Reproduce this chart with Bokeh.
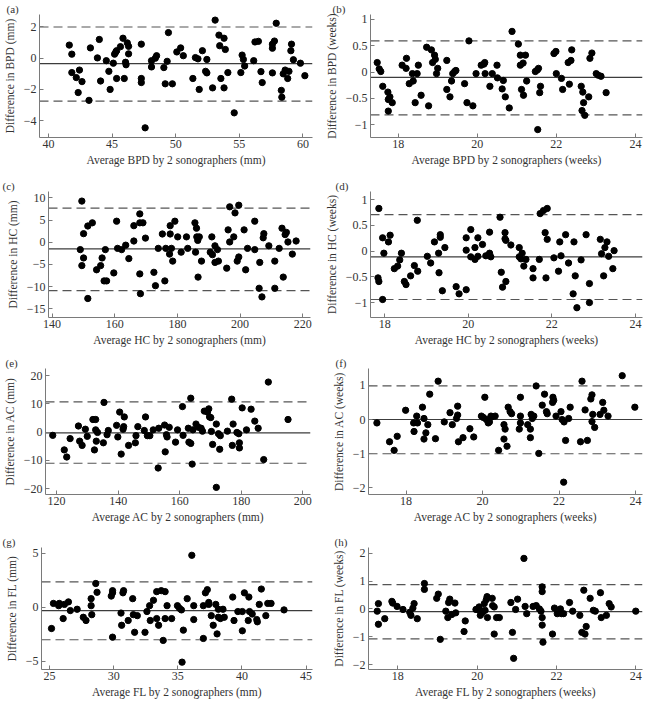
from bokeh.plotting import figure
from bokeh.layouts import column, row
from bokeh.models import Span, FixedTicker, CustomJSTickFormatter, Range1d, Title
from bokeh.embed import file_html
from bokeh.resources import INLINE

FONT = "Liberation Serif"
TXT = "#333333"
AXIS = "#7a7a7a"

# ---------------- (a) BPD mm ----------------
bpd_mm_avg = [41.64, 41.84, 41.84, 42.19, 42.34, 42.44, 42.64, 43.19, 43.30, 43.85,
              44.0, 44.1, 44.55, 44.75, 44.85, 45.1, 45.2, 45.3, 45.36, 45.36,
              45.66, 45.86, 45.96, 46.06, 46.1, 46.2, 46.3, 46.3, 47.3, 47.3,
              47.3, 47.6, 48.1, 48.1, 48.4, 48.5, 49.07, 49.18, 49.33, 49.43,
              49.74, 50.09, 50.39, 50.6, 51.35, 51.55, 51.75, 51.85, 52.1, 52.35,
              52.45, 52.45, 52.9, 53.1, 53.4, 53.46, 53.55, 53.8, 53.8, 53.9,
              54.1, 54.6, 55.12, 55.22, 55.32, 55.42, 56.13, 56.23, 56.5, 56.7,
              56.8, 57.6, 57.6, 57.6, 57.76, 57.9, 58.3, 58.34, 58.45, 58.6,
              58.8, 58.9, 59.1, 59.05, 59.25, 59.8, 60.15]
bpd_mm_diff = [0.84, 0.26, -0.92, -1.24, -2.2, -0.76, -1.5, -2.7, 0.66, 0.02,
               1.2, -1.46, -0.16, -0.84, -2.0, -0.32, 0.26, 0.4, 0.48, -1.3,
               0.74, 1.28, -1.3, -0.26, -0.42, 0.98, 0.76, 0.28, 0.9, -1.3,
               -1.56, -4.46, -0.56, -0.16, 0.0, 0.16, -0.6, -1.64, -0.2, 1.64,
               -1.64, 0.4, 0.66, 0.16, -1.3, 0.04, -0.04, -2.0, 0.48, -0.84,
               -0.08, -0.94, -1.9, 2.44, 1.48, 0.8, -1.3, 1.28, -1.9, 0.56,
               -0.92, -3.5, -0.92, 0.2, -0.08, -0.5, -0.16, 1.04, 1.08, -0.86,
               -1.56, 0.9, 0.64, -0.94, 1.1, 2.24, -2.06, -2.5, -1.0, -0.76,
               -1.3, -0.84, 0.9, 0.48, -0.1, -0.32, -1.12]
bpd_mm_limits = [-0.35, 2.0, -2.75]  # mean, upper, lower

# ---------------- (b) BPD weeks ----------------
bpd_wk_avg = [17.47, 17.52, 17.56, 17.61, 17.74, 17.75, 17.75, 17.79, 17.85, 18.1,
              18.2, 18.21, 18.28, 18.36, 18.38, 18.43, 18.48, 18.51, 18.58, 18.72,
              18.77, 18.84, 18.87, 18.92, 18.94, 18.97, 19.0, 19.23, 19.23, 19.31,
              19.35, 19.38, 19.43, 19.46, 19.68, 19.74, 19.79, 19.89, 19.97, 20.1,
              20.17, 20.19, 20.2, 20.32, 20.38, 20.5, 20.51, 20.63, 20.66, 20.71,
              20.81, 20.88, 21.04, 21.09, 21.09, 21.12, 21.16, 21.17, 21.22, 21.25,
              21.47, 21.52, 21.53, 21.55, 21.58, 21.6, 21.94, 21.99, 22.0, 22.13,
              22.16, 22.3, 22.33, 22.37, 22.39, 22.63, 22.67, 22.69, 22.65, 22.72,
              22.82, 22.85, 22.9, 23.01, 23.06, 23.13, 23.26]
bpd_wk_diff = [0.18, 0.06, 0.01, -0.27, -0.38, -0.52, -0.74, -0.47, -0.58, 0.13,
               0.07, 0.26, -0.22, -0.03, -0.17, -0.58, -0.03, 0.13, -0.44, 0.47,
               -0.64, 0.42, 0.18, 0.32, 0.24, -0.03, 0.07, 0.22, -0.33, -0.47,
               -0.17, -0.03, 0.01, 0.03, -0.22, -0.58, 0.59, -0.64, -0.03, 0.13,
               0.15, 0.18, -0.03, -0.27, -0.03, 0.13, -0.11, -0.32, -0.16, -0.47,
               -0.68, 0.77, 0.53, 0.32, 0.13, -0.33, 0.17, -0.44, 0.32, -0.17,
               0.01, 0.04, -1.09, 0.07, -0.39, -0.27, 0.35, 0.39, -0.03, -0.12,
               -0.33, 0.18, -0.23, 0.22, 0.42, -0.27, -0.38, -0.58, -0.73, -0.82,
               -0.47, 0.26, 0.36, -0.03, -0.06, -0.08, -0.39]
bpd_wk_limits = [-0.10, 0.59, -0.81]

# ---------------- (c) HC mm ----------------
hc_mm_avg = [149.0, 149.5, 149.5, 150.05, 150.05, 151.4, 151.4, 152.85, 154.2, 155.5,
             155.96, 156.6, 157.0, 157.4, 159.7, 160.6, 160.9, 162.2, 163.5, 164.5,
             166.1, 166.1, 168.0, 168.0, 168.0, 168.2, 169.0, 169.8, 172.5, 173.0,
             173.9, 175.2, 176.0, 176.3, 177.5, 177.7, 177.7, 178.1, 178.5, 179.2,
             180.1, 181.2, 182.9, 183.3, 185.6, 185.8, 186.1, 186.2, 186.5, 186.6,
             187.0, 187.7, 190.5, 191.0, 191.2, 192.0, 192.0, 193.1, 192.8, 195.75,
             196.2, 196.7, 196.7, 198.0, 198.4, 199.1, 199.6, 199.6, 201.3, 201.8,
             202.4, 204.7, 204.7, 206.3, 206.1, 207.0, 207.4, 207.6, 209.2, 211.1,
             211.1, 212.5, 213.4, 213.8, 214.4, 214.8, 215.3, 216.7, 217.9]
hc_mm_diff = [-1.65, 9.28, -5.25, 1.94, -3.53, -12.66, 3.67, 4.39, -6.19, -5.25,
              -3.53, -8.7, -1.65, -8.7, -6.9, 4.75, -1.37, -1.65, -0.65, -3.67,
              3.74, 0.29, 6.4, 4.39, -7.12, -11.58, 4.39, 0.94, -6.76, -9.78,
              -1.37, 1.87, -8.7, -1.37, -2.66, 1.87, 3.74, -1.37, -4.24, 4.75,
              1.22, -2.23, 1.22, -1.37, 4.39, -2.23, 3.17, 1.22, 0.43, -7.84,
              1.22, -4.24, -2.23, 1.22, -2.8, -0.79, -4.53, -4.24, -1.65, -5.83,
              2.8, 0.07, 7.99, 1.22, 6.62, -4.24, -3.31, 8.35, 2.8, -6.19,
              -1.37, 4.75, -1.65, -4.53, -10.36, -12.3, 1.01, 1.94, -0.79, -4.24,
              -10.36, -1.37, 3.17, -7.84, 1.73, 2.23, 0.07, -2.66, 0.29]
hc_mm_limits = [-1.5, 7.7, -10.9]

# ---------------- (d) HC weeks ----------------
hc_wk_avg = [17.86, 17.84, 17.86, 17.95, 17.95, 17.98, 18.09, 18.13, 18.23, 18.31,
             18.36, 18.4, 18.47, 18.51, 18.62, 18.71, 18.78, 18.79, 19.02, 19.1,
             19.19, 19.29, 19.3, 19.33, 19.33, 19.38, 19.44, 19.71, 19.78, 19.95,
             19.95, 19.95, 20.06, 20.06, 20.16, 20.16, 20.23, 20.23, 20.34, 20.42,
             20.51, 20.51, 20.54, 20.76, 20.79, 20.82, 20.88, 20.88, 20.9, 20.9,
             21.02, 21.22, 21.22, 21.26, 21.29, 21.33, 21.38, 21.55, 21.55, 21.7,
             21.72, 21.8, 21.84, 21.86, 21.89, 21.89, 22.05, 22.16, 22.19, 22.22,
             22.33, 22.4, 22.51, 22.53, 22.56, 22.6, 22.7, 22.82, 22.9, 22.9,
             23.16, 23.19, 23.24, 23.27, 23.32, 23.36, 23.46, 23.49]
hc_wk_diff = [0.83, -0.52, -0.59, -0.94, 0.26, -0.04, 0.18, 0.31, -0.34, -0.29,
              -0.17, -0.04, -0.59, -0.65, -0.48, -0.28, 0.6, -0.39, -0.1, -0.23,
              0.18, -0.04, -0.42, 0.32, 0.27, -0.77, 0.07, -0.69, -0.83, -0.75,
              0.26, 0.02, 0.42, -0.11, -0.16, 0.07, 0.26, -0.1, 0.13, -0.09,
              0.37, -0.04, -0.11, 0.66, -0.41, -0.7, 0.36, 0.24, 0.21, -0.59,
              0.12, 0.07, -0.11, -0.15, -0.04, -0.29, -0.16, -0.34, -0.52, -0.16,
              0.73, 0.79, 0.36, -0.52, 0.83, 0.23, -0.13, -0.39, 0.18, -0.09,
              0.32, -0.23, -0.83, 0.18, -0.48, -1.1, -0.17, 0.32, -0.63, -1.0,
              0.23, -0.05, -0.48, 0.07, 0.18, -0.1, -0.34, 0.01]
hc_wk_limits = [-0.11, 0.71, -0.94]

# ---------------- (e) AC mm ----------------
ac_mm_avg = [118.75, 122.5, 123.3, 124.4, 127.1, 127.5, 128.3, 129.35, 129.97, 131.8,
             132.3, 132.7, 132.7, 132.9, 133.3, 135.2, 135.4, 136.4, 136.8, 139.5,
             139.9, 140.5, 140.99, 141.6, 141.8, 142.0, 143.4, 145.6, 145.8, 146.4,
             148.5, 148.9, 149.5, 150.3, 151.4, 153.0, 153.2, 155.1, 155.3, 155.7,
             155.9, 156.6, 158.65, 159.3, 160.9, 161.1, 162.8, 163.0, 163.6, 163.6,
             164.05, 164.3, 165.3, 166.1, 166.96, 167.4, 168.0, 169.04, 169.45, 169.7,
             170.1, 170.3, 170.7, 171.9, 171.9, 172.6, 173.0, 173.2, 175.5, 176.9,
             177.1, 177.35, 178.6, 179.2, 179.4, 179.4, 180.3, 181.7, 183.2, 184.4,
             185.5, 187.3, 188.8, 195.2]
ac_mm_diff = [-1.14, -6.29, -8.8, -2.29, 2.17, -3.2, -4.69, 1.03, -1.49, 4.46,
              -6.29, 4.46, 0.8, -3.2, -0.11, -3.77, 10.51, -0.91, 0.57, 2.4,
              -1.71, 7.09, -7.77, 1.03, 1.94, 5.37, -4.69, -3.77, -1.26, 1.94,
              0.57, 5.37, -1.26, -1.26, 0.8, -12.69, 1.37, 2.51, -6.97, -0.91,
              -1.71, 1.71, -3.54, 0.8, 9.03, -1.14, 1.37, -3.54, -4.0, 12.0,
              -11.31, 0.8, 2.86, 1.71, 1.37, 0.34, 7.43, 7.09, 8.23, 5.37,
              5.14, 0.23, -4.34, -19.54, 2.86, -0.57, -6.06, -1.26, 0.34, 11.66,
              -4.69, 2.86, -0.11, -0.57, -3.77, -5.6, 8.57, 0.8, 8.11, 3.89,
              1.37, -9.71, 17.71, 4.46]
ac_mm_limits = [-0.3, 10.7, -11.0]

# ---------------- (f) AC weeks ----------------
ac_wk_avg = [17.24, 17.57, 17.69, 17.77, 17.99, 18.2, 18.21, 18.28, 18.3, 18.43,
             18.47, 18.47, 18.52, 18.57, 18.62, 18.77, 18.84, 19.0, 19.15, 19.21,
             19.32, 19.35, 19.35, 19.37, 19.49, 19.67, 19.77, 19.97, 20.02, 20.06,
             20.1, 20.15, 20.18, 20.22, 20.25, 20.33, 20.42, 20.56, 20.56, 20.59,
             20.64, 20.67, 20.72, 20.76, 20.96, 20.99, 20.99, 20.99, 21.18, 21.25,
             21.25, 21.27, 21.3, 21.34, 21.4, 21.47, 21.56, 21.62, 21.67, 21.69,
             21.83, 21.84, 21.86, 21.92, 22.05, 22.08, 22.12, 22.13, 22.17, 22.25,
             22.29, 22.6, 22.68, 22.56, 22.74, 22.83, 22.86, 22.86, 22.88, 22.93,
             23.07, 23.14, 23.17, 23.28, 23.65, 23.98]
ac_wk_diff = [-0.1, -0.65, -0.9, -0.49, 0.27, -0.1, -0.35, 0.1, -0.1, 0.36,
              0.03, -0.57, -0.39, -0.15, 0.74, -0.56, 1.12, -0.07, 0.2, -0.15,
              0.03, 0.39, 0.13, -0.65, -0.53, -0.27, -0.51, 0.1, 0.06, 0.65,
              0.0, -0.1, -0.07, 0.1, 0.08, 0.1, -0.9, -0.15, -0.57, -0.28,
              -0.78, 0.36, 0.23, 0.17, -0.28, 0.65, -0.1, 0.1, -0.15, -0.28,
              -0.53, 0.15, 0.03, 0.1, 0.98, -0.99, 0.42, 0.74, 0.23, 0.17,
              0.5, 0.65, 0.56, 0.1, 0.23, 0.0, -1.83, -0.07, -0.61, 0.03,
              0.36, 1.12, 0.28, -0.65, -0.61, 0.6, 0.72, -0.06, 0.15, -0.23,
              0.15, 0.5, 0.27, 0.1, 1.28, 0.36]
ac_wk_limits = [0.0, 0.98, -1.0]

# ---------------- (g) FL mm ----------------
fl_mm_avg = [25.15, 25.3, 25.71, 25.76, 26.06, 26.16, 26.47, 26.62, 27.15, 27.63,
             27.84, 28.24, 28.24, 28.29, 28.6, 28.7, 29.81, 29.91, 29.91, 29.91,
             30.57, 30.62, 30.72, 30.77, 31.13, 31.48, 31.53, 31.63, 31.84, 32.44,
             32.59, 32.8, 32.85, 33.1, 33.35, 33.35, 33.5, 33.71, 33.86, 34.01,
             34.01, 34.16, 34.52, 34.97, 35.13, 35.28, 35.33, 35.43, 35.73, 36.09,
             36.24, 36.24, 36.99, 36.99, 37.15, 37.3, 37.41, 37.41, 37.61, 37.76,
             37.96, 38.06, 38.16, 38.16, 38.32, 38.52, 38.62, 39.28, 39.38, 39.68,
             40.03, 40.03, 40.19, 40.54, 40.49, 40.59, 40.8, 41.15, 41.2, 41.35,
             41.51, 41.86, 42.01, 42.27, 43.28]
fl_mm_diff = [-1.96, 0.36, 0.15, 0.36, -1.04, 0.27, 0.5, -0.3, -0.18, -0.92,
              -1.22, 0.8, 0.15, -0.68, 2.2, 1.39, 1.04, 1.54, 1.34, -2.76,
              -0.53, -1.66, 1.34, 1.54, -1.22, 0.8, -0.68, -2.31, -0.77, -2.31,
              -0.39, 0.15, -1.22, 0.65, -1.04, 1.45, -1.66, 1.54, -3.06, 1.45,
              -1.04, 0.15, -1.04, 0.15, -0.09, -0.24, -5.07, -2.11, 0.8, 4.81,
              0.15, -1.13, 0.15, -2.88, 1.34, 1.63, 0.27, 0.45, -0.77, -1.66,
              0.27, -2.46, -0.92, -0.18, -1.04, -0.18, -0.92, 0.95, -1.22, -0.39,
              -0.39, -2.17, 1.34, 0.95, -1.22, -0.39, -0.62, -1.13, -1.34, 0.27,
              1.69, -0.77, 0.36, 0.36, -0.24]
fl_mm_limits = [-0.3, 2.35, -3.0]

# ---------------- (h) FL weeks ----------------
fl_wk_avg = [17.48, 17.51, 17.51, 17.67, 17.85, 17.87, 17.98, 18.13, 18.3, 18.33,
             18.38, 18.41, 18.49, 18.67, 18.67, 18.98, 19.02, 19.07, 19.21, 19.26,
             19.28, 19.31, 19.36, 19.44, 19.46, 19.67, 19.7, 19.97, 20.03, 20.05,
             20.08, 20.13, 20.18, 20.2, 20.23, 20.25, 20.26, 20.38, 20.39, 20.43,
             20.43, 20.49, 20.56, 20.85, 20.89, 20.92, 20.97, 21.02, 21.18, 21.21,
             21.25, 21.41, 21.49, 21.57, 21.61, 21.64, 21.64, 21.64, 21.64, 21.66,
             21.9, 21.95, 22.02, 22.1, 22.13, 22.18, 22.33, 22.41, 22.59, 22.64,
             22.69, 22.72, 22.75, 22.85, 22.93, 22.98, 23.11, 23.13, 23.26, 23.33,
             23.38, 24.0]
fl_wk_diff = [-0.08, 0.19, -0.55, -0.35, 0.27, 0.21, 0.09, -0.02, -0.12, -0.23,
              0.03, 0.19, -0.35, 0.91, 0.7, 0.38, 0.53, -1.09, -0.08, -0.31,
              0.23, 0.35, -0.2, 0.21, -0.14, -0.81, -0.43, -0.02, -0.02, 0.07,
              -0.23, -0.14, 0.19, -0.05, 0.33, 0.44, -0.31, 0.38, 0.12, 0.07,
              -0.9, -0.31, -0.31, 0.23, -0.84, -1.77, -0.02, 0.35, 1.81, 0.09,
              -0.17, 0.09, 0.12, 0.0, -0.08, 0.79, 0.62, -0.31, -0.58, -1.19,
              -0.9, 0.03, -0.17, 0.0, -0.17, -0.17, 0.23, -0.08, -0.23, -0.84,
              0.67, -0.9, -0.63, 0.38, -0.05, -0.08, 0.58, -0.31, -0.23, 0.19,
              0.07, -0.08]
fl_wk_limits = [-0.1, 0.87, -1.07]

# tick positions
ticks_a_x = [40, 45, 50, 55, 60]
ticks_a_y = [-4, -2, 0, 2]
ticks_wk_x = [18, 20, 22, 24]
ticks_b_y = [-1, -0.5, 0, 0.5, 1]
ticks_c_x = [140, 160, 180, 200, 220]
ticks_c_y = [-15, -10, -5, 0, 5, 10]
ticks_d_y = [-1, -0.5, 0, 0.5, 1]
ticks_e_x = [120, 140, 160, 180, 200]
ticks_e_y = [-20, -10, 0, 10, 20]
ticks_f_y = [-2, -1, 0, 1]
ticks_g_x = [25, 30, 35, 40, 45]
ticks_g_y = [-5, 0, 5]
ticks_h_y = [-2, -1, 0, 1, 2]

MINUS_FMT = "return tick < 0 ? '\u2212' + String(-tick) : String(tick);"


def panel(tag, xs, ys, limits, xr, yr, xticks, yticks, xlabel, ylabel,
          w, h, border, tagx):
    L, R, T, B = border
    p = figure(width=w, height=h, x_range=Range1d(*xr), y_range=Range1d(*yr),
               output_backend="svg", toolbar_location=None,
               min_border_left=L, min_border_right=R,
               min_border_top=T, min_border_bottom=B)
    p.outline_line_color = None
    p.grid.visible = False
    p.background_fill_color = "white"
    p.border_fill_color = "white"
    p.xaxis.ticker = FixedTicker(ticks=xticks)
    p.yaxis.ticker = FixedTicker(ticks=yticks)
    p.xaxis.axis_label = xlabel
    p.yaxis.axis_label = ylabel
    for ax in (p.xaxis[0], p.yaxis[0]):
        ax.formatter = CustomJSTickFormatter(code=MINUS_FMT)
        ax.axis_line_color = AXIS
        ax.axis_line_width = 1
        ax.major_tick_line_color = AXIS
        ax.major_tick_in = 4
        ax.major_tick_out = 0
        ax.minor_tick_line_color = None
        ax.major_label_text_font = FONT
        ax.major_label_text_font_size = "12px"
        ax.major_label_text_color = TXT
        ax.axis_label_text_font = FONT
        ax.axis_label_text_font_size = "11.5px"
        ax.axis_label_text_font_style = "normal"
        ax.axis_label_text_color = TXT
    p.xaxis.major_label_standoff = 2
    p.xaxis.axis_label_standoff = 3
    p.yaxis.major_label_standoff = 3
    p.yaxis.axis_label_standoff = 5

    mean, upper, lower = limits
    p.add_layout(Span(location=mean, dimension="width", line_color="#3c3c3c",
                      line_width=1.2, level="underlay"))
    for loc in (upper, lower):
        p.add_layout(Span(location=loc, dimension="width", line_color="#555555",
                          line_width=1.2, line_dash="9 5", level="underlay"))
    p.scatter(xs, ys, size=6.3, color="black")

    t = Title(text=tag, align="left", offset=tagx - L, text_font=FONT,
              text_font_size="11px", text_font_style="normal", text_color=TXT)
    if "standoff" in Title.properties():
        t.standoff = 0
    p.title = t
    return p


W = 322
pa = panel("(a)", bpd_mm_avg, bpd_mm_diff, bpd_mm_limits, (39.3, 60.75), (-5.08, 2.8),
           ticks_a_x, ticks_a_y, "Average BPD by 2 sonographers (mm)", "Difference in BPD (mm)",
           W, 174, (35, 10, 10, 36), 2)
pb = panel("(b)", bpd_wk_avg, bpd_wk_diff, bpd_wk_limits, (17.3, 24.18), (-1.24, 1.09),
           ticks_wk_x, ticks_b_y, "Average BPD by 2 sonographers (weeks)", "Difference in BPD (weeks)",
           W, 174, (48, 2, 12, 37), 10)
pc = panel("(c)", hc_mm_avg, hc_mm_diff, hc_mm_limits, (138.85, 222.5), (-16.94, 11.44),
           ticks_c_x, ticks_c_y, "Average HC by 2 sonographers (mm)", "Difference in HC (mm)",
           W, 174, (48, 12, 17, 29), 2)
pd_ = panel("(d)", hc_wk_avg, hc_wk_diff, hc_wk_limits, (17.66, 24.17), (-1.29, 1.16),
            ticks_wk_x, ticks_d_y, "Average HC by 2 sonographers (weeks)", "Difference in HC (weeks)",
            W, 174, (47, 2, 15, 29), 12)
pe = panel("(e)", ac_mm_avg, ac_mm_diff, ac_mm_limits, (116.4, 202.5), (-22.06, 22.5),
           ticks_e_x, ticks_e_y, "Average AC by 2 sonographers (mm)", "Difference in AC (mm)",
           W, 179, (41, 12, 20, 32), 1)
pf = panel("(f)", ac_wk_avg, ac_wk_diff, ac_wk_limits, (17.02, 24.18), (-2.19, 1.49),
           ticks_wk_x, ticks_f_y, "Average AC by 2 sonographers (weeks)", "Difference in AC (weeks)",
           W, 179, (46, 2, 20, 33), 13)
pg = panel("(g)", fl_mm_avg, fl_mm_diff, fl_mm_limits, (24.37, 45.5), (-5.75, 5.53),
           ticks_g_x, ticks_g_y, "Average FL by 2 sonographers (mm)", "Difference in FL (mm)",
           W, 173, (41, 10, 20, 30), 2)
ph = panel("(h)", fl_wk_avg, fl_wk_diff, fl_wk_limits, (17.26, 24.17), (-2.17, 2.2),
           ticks_wk_x, ticks_h_y, "Average FL by 2 sonographers (weeks)", "Difference in FL (weeks)",
           W, 173, (46, 2, 20, 30), 12)

layout = column(row(pa, pb), row(pc, pd_), row(pe, pf), row(pg, ph))
open("out.html", "w").write(file_html(layout, INLINE))
